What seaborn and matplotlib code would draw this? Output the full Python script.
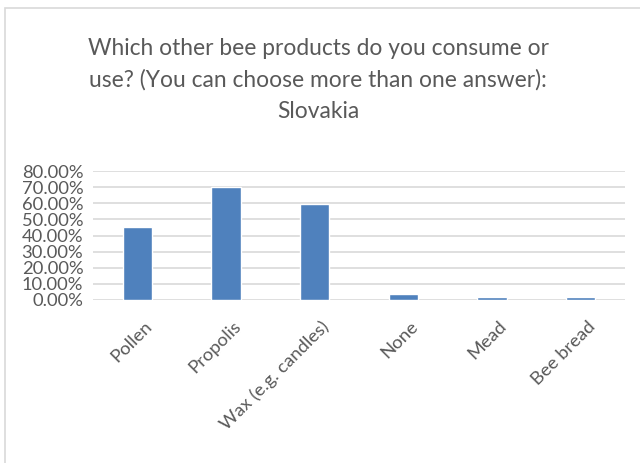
import matplotlib
matplotlib.use("Agg")
import matplotlib.pyplot as plt
from matplotlib.patches import Rectangle
from matplotlib.ticker import FixedLocator, FuncFormatter
from matplotlib.transforms import ScaledTranslation
import seaborn as sns
import pandas as pd

# Survey answers (share of respondents)
products = ["Pollen", "Propolis", "Wax (e.g. candles)", "None", "Mead", "Bee bread"]
shares = [0.45, 0.70, 0.595, 0.035, 0.018, 0.018]
y_ticks = [0.0, 0.1, 0.2, 0.3, 0.4, 0.5, 0.6, 0.7, 0.8]

title = ("Which other bee products do you consume or\n"
         "use? (You can choose more than one answer):\n"
         "Slovakia")

sns.set_theme(style="white")
plt.rcParams["font.family"] = ["Lato", "DejaVu Sans"]

text_grey = "#595959"
grid_grey = "#d9d9d9"
bar_blue = "#4f81bd"

df = pd.DataFrame({"product": products, "share": shares})

fig = plt.figure(figsize=(6.4, 4.63), dpi=100)
ax = fig.add_axes([93 / 640, 1 - 300 / 463, (625 - 93) / 640, (300 - 171) / 463])

sns.barplot(data=df, x="product", y="share", color=bar_blue, width=0.33,
            saturation=1, ax=ax)

ax.set_ylim(0, 0.8)
ax.set_xlim(-0.5, len(products) - 0.5)
ax.yaxis.set_major_locator(FixedLocator(y_ticks))
ax.yaxis.set_major_formatter(FuncFormatter(lambda v, p: f"{v * 100:.2f}%"))
ax.grid(axis="y", color=grid_grey, linewidth=1.2)
ax.set_axisbelow(True)
for s in ax.spines.values():
    s.set_visible(False)

ax.set_xlabel("")
ax.set_ylabel("")
ax.tick_params(axis="both", length=0, colors=text_grey)
ax.tick_params(axis="y", labelsize=13.2, pad=7)
ax.tick_params(axis="x", labelsize=13.3, pad=17)
for lbl in ax.get_yticklabels():
    lbl.set_color(text_grey)
ax.set_xticks(range(len(products)))
ax.set_xticklabels(products, rotation=45, ha="right", va="center",
                   rotation_mode="anchor", color=text_grey)
shift = ScaledTranslation(0.12, 0.0, fig.dpi_scale_trans)
for lbl in ax.get_xticklabels():
    lbl.set_transform(lbl.get_transform() + shift)

fig.text(0.497, 1 - 80 / 463, title, ha="center", va="center",
         fontsize=16.4, color=text_grey, linespacing=1.62)

# chart frame
fig.patches.append(Rectangle((5 / 640, -0.05), 1.0, 1 - 8 / 463 + 0.05,
                             transform=fig.transFigure, fill=False,
                             edgecolor="#d9d9d9", linewidth=1.2))

fig.savefig("out.png", dpi=100, facecolor="white")
